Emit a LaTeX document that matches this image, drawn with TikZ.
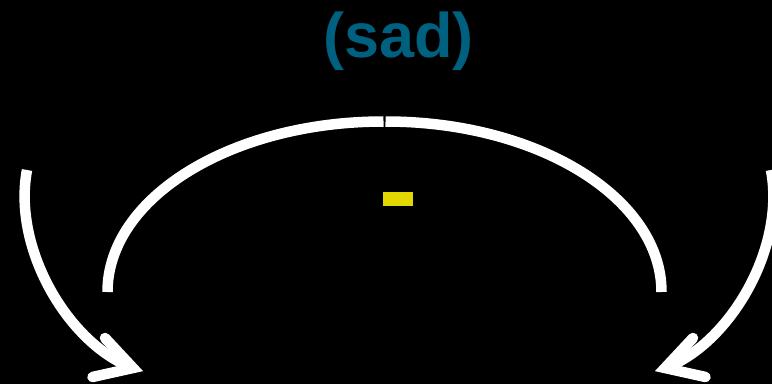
\documentclass[tikz,border=0pt]{standalone}
\usepackage{fontspec}
\setmainfont{Liberation Sans}
\definecolor{sadblue}{HTML}{00607F}
\definecolor{markyellow}{HTML}{E2D800}
\begin{document}
\begin{tikzpicture}[x=1pt,y=-1pt,
  stroke/.style={draw=white,line width=10.5pt},
  barb/.style={draw=white,line width=10.5pt,line cap=round,line join=miter}]
\fill[black] (0,0) rectangle (772,384);
\useasboundingbox (0,0) rectangle (772,384);
% title
\node[anchor=base,text=sadblue,font=\fontsize{63}{70}\selectfont\bfseries,inner sep=0pt] (title) at (398.5,57) {(sad)};
% yellow mark
\node[fill=markyellow,minimum width=30pt,minimum height=14pt,inner sep=0pt] (mark) at (398,199) {};
% big arc, two halves
\coordinate (la) at (107.5,292);
\coordinate (rb) at (385.5,121.5);
\draw[stroke] (la) arc[start angle=180,end angle=90,x radius=276pt,y radius=170.5pt];
\draw[stroke] (rb) arc[start angle=90,end angle=0,x radius=276pt,y radius=170.5pt];
% left arrow
\coordinate (ls) at (27,170);
\coordinate (lt) at (133,368);
\coordinate (lb1) at (105,338);
\coordinate (lb2) at (92.5,377);
\draw[stroke] (ls) .. controls (12,250) and (70,345) .. (lt);
\draw[barb] (lb1) -- (lt) -- (lb2);
% right arrow
\coordinate (rs) at (771,170);
\coordinate (rt) at (665,368);
\coordinate (rb1) at (693,338);
\coordinate (rb2) at (705.5,377);
\draw[stroke] (rs) .. controls (786,250) and (728,345) .. (rt);
\draw[barb] (rb1) -- (rt) -- (rb2);
\end{tikzpicture}
\end{document}
